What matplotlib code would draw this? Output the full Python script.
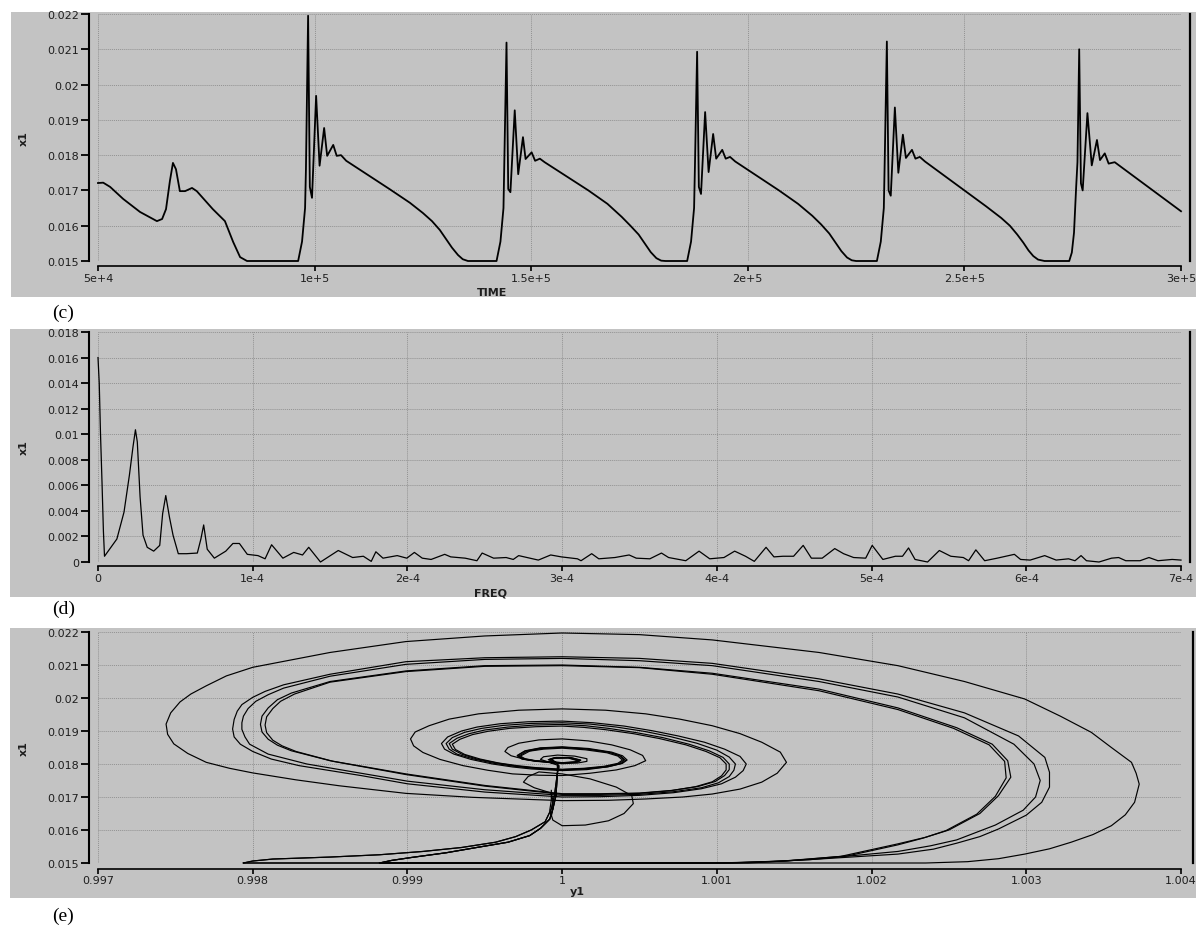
import matplotlib
matplotlib.use("Agg")
import matplotlib.pyplot as plt
from matplotlib.patches import Rectangle

# ---------------- data ----------------

# (c) time series: TIME in thousands, x1
time_k = [50.0, 51.2, 52.8, 55.8, 59.7, 63.6, 64.8, 65.7, 66.6, 67.3, 68.0, 68.9, 70.1, 71.7, 72.8, 76.5, 79.3, 81.2, 82.8, 84.4,
          96.2, 97.1, 97.8, 98.0, 98.5, 98.9, 99.4, 100.35, 101.15, 102.2, 102.9, 104.3, 105.1, 106.1, 107.3,
          117.4, 122.0, 125.0, 127.1, 128.9, 130.3, 131.7, 133.1, 134.2, 135.4,
          142.0, 142.9, 143.6, 143.8, 144.3, 144.7, 145.2, 146.2, 147.0, 148.1, 148.7, 150.1, 150.9, 152.0, 153.1,
          163.2, 167.6, 170.9, 172.9, 174.8, 176.2, 177.6, 178.9, 180.0, 181.0,
          186.0, 186.9, 187.6, 187.8, 188.3, 188.7, 189.2, 190.15, 190.95, 192.0, 192.7, 194.1, 194.9, 195.9, 197.1,
          207.2, 211.6, 214.9, 216.9, 218.8, 220.2, 221.6, 222.9, 224.0, 225.0,
          229.8, 230.7, 231.4, 231.6, 232.1, 232.5, 233.0, 233.95, 234.75, 235.8, 236.5, 237.9, 238.7, 239.7, 240.9,
          250.0, 255.0, 258.5, 260.5, 262.2, 263.6, 264.8, 265.9, 267.0, 268.5,
          274.2, 274.8, 275.3, 275.8, 276.1, 276.5, 276.9, 277.3, 278.4, 279.4, 280.6, 281.3, 282.4, 283.3, 284.7, 300.0]
x1_time = [0.01721, 0.01722, 0.01710, 0.01676, 0.01639, 0.01613, 0.01619, 0.01647, 0.01727, 0.01778, 0.01760, 0.01698, 0.01698, 0.01707, 0.01698, 0.01647, 0.01613, 0.01554, 0.01511, 0.01500,
           0.01500, 0.01555, 0.01650, 0.01760, 0.02195, 0.01710, 0.01679, 0.01968, 0.01770, 0.01877, 0.01798, 0.01829, 0.01798, 0.01800, 0.01784,
           0.01703, 0.01665, 0.01636, 0.01613, 0.01588, 0.01563, 0.01538, 0.01517, 0.01505, 0.01500,
           0.01500, 0.01555, 0.01650, 0.01780, 0.02119, 0.01704, 0.01695, 0.01927, 0.01746, 0.01851, 0.01789, 0.01808, 0.01784, 0.01790, 0.01780,
           0.01700, 0.01662, 0.01625, 0.01600, 0.01575, 0.01550, 0.01525, 0.01508, 0.01501, 0.01500,
           0.01500, 0.01555, 0.01650, 0.01770, 0.02093, 0.01710, 0.01690, 0.01922, 0.01752, 0.01860, 0.01790, 0.01815, 0.01790, 0.01795, 0.01782,
           0.01700, 0.01662, 0.01628, 0.01604, 0.01578, 0.01553, 0.01528, 0.01510, 0.01502, 0.01500,
           0.01500, 0.01555, 0.01650, 0.01780, 0.02122, 0.01700, 0.01685, 0.01935, 0.01750, 0.01858, 0.01792, 0.01815, 0.01790, 0.01795, 0.01782,
           0.01700, 0.01655, 0.01622, 0.01600, 0.01575, 0.01552, 0.01530, 0.01514, 0.01504, 0.01500,
           0.01500, 0.01524, 0.01580, 0.01710, 0.01780, 0.02100, 0.01720, 0.01700, 0.01919, 0.01771, 0.01843, 0.01786, 0.01805, 0.01776, 0.01780, 0.01641]

# (d) spectrum: FREQ in 1e-6, x1 in 1e-3
freq_e6 = [0, 0.8, 1.6, 2.6, 3.5, 4.2, 12.2, 16.8, 20.3, 22.6, 24.2, 25.4, 27.2, 29.1, 31.8, 36.0, 39.9, 41.8, 43.8, 46.2,
           48.5, 51.9, 57.2, 64.2, 66.5, 68.3, 70.6, 75.2, 82.6, 87.2, 91.4, 96.5, 103.4, 108.0, 112.2, 119.5, 126.5, 132.2, 136.2, 143.8,
           155.3, 164.6, 171.5, 176.6, 179.6, 184.2, 193.4, 199.6, 204.5, 209.6, 215.3, 224.1, 228.0, 237.3, 244.9, 248.3, 255.7, 263.8, 268.4, 271.9,
           284.6, 292.6, 299.5, 309.9, 312.2, 319.1, 323.7, 334.1, 343.3, 347.9, 356.7, 364.2, 368.8, 379.9, 388.5, 395.4, 404.6, 411.5, 418.5, 424.2,
           431.8, 436.9, 442.7, 449.6, 455.8, 461.1, 468.1, 476.2, 481.9, 488.4, 496.2, 500.4, 507.3, 515.4, 520.0, 523.9, 528.1, 536.2, 543.8, 551.2,
           559.3, 562.7, 567.4, 573.1, 581.2, 592.3, 596.3, 602.5, 611.9, 619.3, 627.3, 631.5, 635.4, 638.9, 647.0, 655.1, 659.7, 664.3, 673.5, 679.3,
           685.1, 694.3, 700.0]
amp_e3 = [16.0, 14.0, 10.1, 6.2, 2.4, 0.45, 1.8, 3.9, 6.8, 9.0, 10.35, 9.4, 5.1, 2.1, 1.15, 0.85, 1.3, 3.8, 5.2, 3.5,
          2.1, 0.65, 0.65, 0.7, 1.8, 2.9, 1.0, 0.3, 0.85, 1.45, 1.45, 0.6, 0.5, 0.25, 1.35, 0.3, 0.75, 0.55, 1.15, 0.0,
          0.9, 0.35, 0.45, 0.05, 0.8, 0.3, 0.5, 0.3, 0.75, 0.3, 0.2, 0.6, 0.4, 0.3, 0.1, 0.7, 0.3, 0.35, 0.2, 0.5,
          0.15, 0.55, 0.4, 0.25, 0.1, 0.65, 0.25, 0.35, 0.55, 0.3, 0.25, 0.7, 0.35, 0.1, 0.85, 0.25, 0.35, 0.85, 0.45, 0.05,
          1.15, 0.4, 0.45, 0.45, 1.3, 0.3, 0.3, 1.05, 0.65, 0.35, 0.3, 1.3, 0.2, 0.45, 0.45, 1.1, 0.2, 0.0, 0.9, 0.45,
          0.35, 0.1, 0.95, 0.1, 0.3, 0.6, 0.2, 0.15, 0.5, 0.15, 0.25, 0.1, 0.5, 0.1, 0.0, 0.3, 0.35, 0.1, 0.1, 0.35,
          0.1, 0.2, 0.15]

# (e) phase portrait, (y1, x1) pairs per spike cycle
orbit_0 = [(0.99993, 0.01720), (0.99993, 0.01690), (0.99992, 0.01660), (0.99994, 0.01630), (1.00000, 0.01613), (1.00015, 0.01615),
           (1.00030, 0.01628), (1.00040, 0.01650), (1.00046, 0.01680), (1.00045, 0.01704), (1.00035, 0.01730), (1.00018, 0.01755),
           (1.00000, 0.01770), (0.99985, 0.01776), (0.99978, 0.01762), (0.99975, 0.01745), (0.99982, 0.01728), (0.99993, 0.01712),
           (0.99994, 0.01690), (0.99994, 0.01664), (0.99992, 0.01633), (0.99986, 0.01605), (0.99979, 0.01583), (0.99965, 0.01563),
           (0.99946, 0.01548), (0.99925, 0.01531), (0.99903, 0.01517), (0.99890, 0.01508), (0.99882, 0.01500)]

orbit_1 = [(0.99882, 0.01500), (1.00235, 0.01500),
           (1.00262, 0.01504), (1.00282, 0.01513), (1.00299, 0.01527), (1.00315, 0.01543), (1.00329, 0.01563), (1.00343, 0.01586),
           (1.00355, 0.01613), (1.00364, 0.01646), (1.00370, 0.01684), (1.00373, 0.01739), (1.00371, 0.01772), (1.00368, 0.01805),
           (1.00355, 0.01850), (1.00342, 0.01896), (1.00322, 0.01945), (1.00299, 0.01997), (1.00260, 0.02050), (1.00217, 0.02098),
           (1.00166, 0.02138), (1.00097, 0.02176), (1.00050, 0.02192), (1.00000, 0.02197),
           (0.99950, 0.02188), (0.99899, 0.02171), (0.99850, 0.02138), (0.99800, 0.02093), (0.99783, 0.02067), (0.99770, 0.02037),
           (0.99760, 0.02012), (0.99753, 0.01988), (0.99747, 0.01955), (0.99744, 0.01921), (0.99745, 0.01890), (0.99749, 0.01861),
           (0.99758, 0.01832), (0.99770, 0.01805), (0.99785, 0.01787), (0.99800, 0.01773), (0.99828, 0.01752), (0.99856, 0.01734),
           (0.99899, 0.01711), (0.99942, 0.01699), (1.00000, 0.01689),
           (1.00030, 0.01690), (1.00054, 0.01694), (1.00078, 0.01700), (1.00097, 0.01709), (1.00115, 0.01724), (1.00129, 0.01745),
           (1.00139, 0.01772), (1.00145, 0.01805), (1.00141, 0.01836), (1.00129, 0.01866), (1.00115, 0.01892), (1.00097, 0.01916),
           (1.00076, 0.01936), (1.00054, 0.01952), (1.00028, 0.01963), (1.00000, 0.01967), (0.99972, 0.01963), (0.99946, 0.01952),
           (0.99927, 0.01936), (0.99914, 0.01916), (0.99905, 0.01897), (0.99902, 0.01876), (0.99904, 0.01855), (0.99910, 0.01835),
           (0.99921, 0.01814), (0.99936, 0.01795), (0.99952, 0.01781), (0.99968, 0.01770), (0.99985, 0.01766), (1.00000, 0.01765),
           (1.00018, 0.01772), (1.00035, 0.01782), (1.00047, 0.01795), (1.00054, 0.01810), (1.00052, 0.01826), (1.00044, 0.01843),
           (1.00032, 0.01858), (1.00017, 0.01870), (1.00000, 0.01876), (0.99985, 0.01873), (0.99972, 0.01863), (0.99965, 0.01850),
           (0.99963, 0.01838), (0.99967, 0.01825), (0.99976, 0.01814), (0.99988, 0.01806),
           (1.00000, 0.01801), (1.00010, 0.01803), (1.00016, 0.01808), (1.00016, 0.01816), (1.00008, 0.01824), (0.99997, 0.01827),
           (0.99988, 0.01822), (0.99986, 0.01814), (0.99991, 0.01806), (0.99998, 0.01795),
           (0.99997, 0.01775), (0.99996, 0.01740), (0.99995, 0.01704), (0.99993, 0.01664), (0.99989, 0.01625), (0.99980, 0.01600),
           (0.99970, 0.01580), (0.99957, 0.01563), (0.99935, 0.01547), (0.99910, 0.01535), (0.99882, 0.01525), (0.99850, 0.01518),
           (0.99813, 0.01512), (0.99800, 0.01506), (0.99794, 0.01500)]

orbit_2 = [(0.99794, 0.01500), (1.00120, 0.01500),
           (1.00166, 0.01512), (1.00217, 0.01527), (1.00240, 0.01542), (1.00255, 0.01560), (1.00270, 0.01580), (1.00282, 0.01603),
           (1.00300, 0.01645), (1.00310, 0.01684), (1.00315, 0.01730), (1.00315, 0.01775), (1.00312, 0.01820), (1.00295, 0.01885),
           (1.00260, 0.01955), (1.00217, 0.02012), (1.00166, 0.02058), (1.00097, 0.02105), (1.00050, 0.02120), (1.00000, 0.02125),
           (0.99950, 0.02122), (0.99899, 0.02110), (0.99850, 0.02072), (0.99820, 0.02040), (0.99808, 0.02020), (0.99800, 0.02002),
           (0.99793, 0.01980), (0.99790, 0.01960), (0.99788, 0.01935), (0.99787, 0.01906), (0.99788, 0.01882), (0.99792, 0.01860),
           (0.99800, 0.01838), (0.99812, 0.01815), (0.99830, 0.01795), (0.99870, 0.01765), (0.99900, 0.01740), (0.99950, 0.01715),
           (1.00000, 0.01700),
           (1.00025, 0.01701), (1.00050, 0.01705), (1.00072, 0.01713), (1.00090, 0.01725), (1.00103, 0.01740), (1.00112, 0.01760),
           (1.00117, 0.01780), (1.00119, 0.01800), (1.00115, 0.01823), (1.00105, 0.01845), (1.00092, 0.01866), (1.00075, 0.01885),
           (1.00058, 0.01901), (1.00040, 0.01915), (1.00020, 0.01925), (1.00000, 0.01930), (0.99978, 0.01928), (0.99960, 0.01922),
           (0.99945, 0.01912), (0.99935, 0.01900), (0.99926, 0.01882), (0.99922, 0.01862), (0.99924, 0.01845), (0.99930, 0.01830),
           (0.99941, 0.01814), (0.99955, 0.01800), (0.99968, 0.01791), (0.99980, 0.01785), (1.00000, 0.01780),
           (1.00016, 0.01783), (1.00030, 0.01792), (1.00039, 0.01802), (1.00042, 0.01812), (1.00039, 0.01825), (1.00032, 0.01836),
           (1.00017, 0.01847), (1.00000, 0.01852), (0.99986, 0.01849), (0.99976, 0.01840), (0.99971, 0.01826), (0.99974, 0.01815),
           (0.99983, 0.01808), (1.00000, 0.01803), (1.00010, 0.01806), (1.00012, 0.01812), (1.00006, 0.01819), (0.99996, 0.01820),
           (0.99991, 0.01813), (0.99997, 0.01802),
           (0.99997, 0.01775), (0.99996, 0.01704), (0.99994, 0.01664), (0.99992, 0.01633), (0.99986, 0.01605), (0.99979, 0.01583),
           (0.99965, 0.01563), (0.99946, 0.01548), (0.99925, 0.01531), (0.99903, 0.01517), (0.99890, 0.01508), (0.99882, 0.01500)]

orbit_3 = [(0.99882, 0.01500), (1.00100, 0.01500),
           (1.00140, 0.01505), (1.00180, 0.01520), (1.00217, 0.01558), (1.00235, 0.01578), (1.00250, 0.01600), (1.00270, 0.01650),
           (1.00282, 0.01704), (1.00290, 0.01760), (1.00288, 0.01810), (1.00278, 0.01860), (1.00255, 0.01910), (1.00217, 0.01970),
           (1.00166, 0.02027), (1.00097, 0.02075), (1.00050, 0.02093), (1.00000, 0.02100),
           (0.99950, 0.02098), (0.99899, 0.02082), (0.99850, 0.02050), (0.99825, 0.02015), (0.99816, 0.01995), (0.99810, 0.01970),
           (0.99806, 0.01945), (0.99805, 0.01920), (0.99806, 0.01897), (0.99810, 0.01875), (0.99816, 0.01857), (0.99825, 0.01840),
           (0.99850, 0.01810), (0.99899, 0.01770), (0.99950, 0.01735), (1.00000, 0.01710),
           (1.00025, 0.01710), (1.00050, 0.01712), (1.00071, 0.01720), (1.00088, 0.01732), (1.00099, 0.01747), (1.00105, 0.01765),
           (1.00108, 0.01783), (1.00108, 0.01800), (1.00104, 0.01820), (1.00095, 0.01840), (1.00082, 0.01860), (1.00065, 0.01880),
           (1.00048, 0.01895), (1.00030, 0.01908), (1.00015, 0.01916), (1.00000, 0.01920), (0.99982, 0.01918), (0.99965, 0.01912),
           (0.99950, 0.01903), (0.99940, 0.01892), (0.99932, 0.01878), (0.99927, 0.01862), (0.99929, 0.01845), (0.99935, 0.01830),
           (0.99945, 0.01815), (0.99958, 0.01803), (0.99970, 0.01794), (0.99982, 0.01788), (1.00000, 0.01783),
           (1.00015, 0.01786), (1.00028, 0.01792), (1.00037, 0.01801), (1.00040, 0.01812), (1.00037, 0.01825), (1.00030, 0.01836),
           (1.00016, 0.01845), (1.00000, 0.01850), (0.99987, 0.01847), (0.99977, 0.01838), (0.99972, 0.01824), (0.99975, 0.01816),
           (0.99982, 0.01810), (1.00000, 0.01804), (1.00009, 0.01806), (1.00011, 0.01810), (1.00004, 0.01819), (0.99995, 0.01818),
           (0.99993, 0.01814), (0.99997, 0.01802),
           (0.99998, 0.01790), (0.99997, 0.01775), (0.99996, 0.01740), (0.99995, 0.01704), (0.99993, 0.01664), (0.99989, 0.01625),
           (0.99980, 0.01600), (0.99970, 0.01580), (0.99957, 0.01563), (0.99935, 0.01547), (0.99910, 0.01535), (0.99882, 0.01525),
           (0.99850, 0.01518), (0.99813, 0.01512), (0.99800, 0.01506), (0.99794, 0.01500)]

orbit_4 = [(0.99794, 0.01500), (1.00110, 0.01500),
           (1.00160, 0.01510), (1.00217, 0.01535), (1.00238, 0.01552), (1.00255, 0.01570), (1.00280, 0.01615), (1.00298, 0.01660),
           (1.00306, 0.01700), (1.00309, 0.01750), (1.00305, 0.01800), (1.00292, 0.01860), (1.00260, 0.01940), (1.00217, 0.02003),
           (1.00166, 0.02050), (1.00097, 0.02098), (1.00050, 0.02113), (1.00000, 0.02120),
           (0.99950, 0.02117), (0.99899, 0.02102), (0.99850, 0.02066), (0.99820, 0.02030), (0.99810, 0.02010), (0.99802, 0.01990),
           (0.99797, 0.01968), (0.99794, 0.01945), (0.99793, 0.01925), (0.99793, 0.01905), (0.99795, 0.01882), (0.99798, 0.01860),
           (0.99810, 0.01830), (0.99835, 0.01800), (0.99875, 0.01768), (0.99900, 0.01748), (0.99950, 0.01722), (1.00000, 0.01705),
           (1.00025, 0.01705), (1.00050, 0.01708), (1.00072, 0.01716), (1.00090, 0.01728), (1.00101, 0.01743), (1.00108, 0.01762),
           (1.00111, 0.01781), (1.00112, 0.01800), (1.00108, 0.01821), (1.00100, 0.01842), (1.00087, 0.01863), (1.00070, 0.01883),
           (1.00053, 0.01899), (1.00035, 0.01912), (1.00018, 0.01921), (1.00000, 0.01925), (0.99980, 0.01923), (0.99962, 0.01917),
           (0.99948, 0.01908), (0.99937, 0.01896), (0.99929, 0.01880), (0.99925, 0.01862), (0.99927, 0.01845), (0.99932, 0.01830),
           (0.99943, 0.01815), (0.99956, 0.01802), (0.99969, 0.01793), (0.99981, 0.01787), (1.00000, 0.01782),
           (1.00015, 0.01785), (1.00029, 0.01791), (1.00038, 0.01801), (1.00041, 0.01811), (1.00038, 0.01824), (1.00031, 0.01835),
           (1.00016, 0.01846), (1.00000, 0.01851), (0.99986, 0.01848), (0.99976, 0.01839), (0.99971, 0.01825), (0.99974, 0.01816),
           (0.99981, 0.01810), (1.00000, 0.01803), (1.00010, 0.01806), (1.00012, 0.01811), (1.00005, 0.01820), (0.99995, 0.01819),
           (0.99992, 0.01815), (0.99997, 0.01802),
           (0.99997, 0.01775), (0.99996, 0.01704), (0.99994, 0.01664), (0.99992, 0.01633), (0.99986, 0.01605), (0.99979, 0.01583),
           (0.99965, 0.01563), (0.99946, 0.01548), (0.99925, 0.01531), (0.99903, 0.01517), (0.99890, 0.01508), (0.99882, 0.01500)]

orbit_5 = [(0.99882, 0.01500), (1.00105, 0.01500),
           (1.00145, 0.01506), (1.00185, 0.01522), (1.00217, 0.01555), (1.00233, 0.01575), (1.00248, 0.01598), (1.00268, 0.01648),
           (1.00280, 0.01702), (1.00287, 0.01758), (1.00286, 0.01808), (1.00276, 0.01858), (1.00253, 0.01908), (1.00217, 0.01965),
           (1.00166, 0.02022), (1.00097, 0.02072), (1.00050, 0.02092), (1.00000, 0.02098),
           (0.99950, 0.02096), (0.99899, 0.02080), (0.99850, 0.02048), (0.99827, 0.02012), (0.99818, 0.01990), (0.99813, 0.01968),
           (0.99809, 0.01943), (0.99808, 0.01918), (0.99809, 0.01895), (0.99813, 0.01872), (0.99819, 0.01855), (0.99828, 0.01838),
           (0.99852, 0.01808), (0.99899, 0.01768), (0.99950, 0.01733), (1.00000, 0.01708),
           (1.00025, 0.01708), (1.00050, 0.01711), (1.00070, 0.01719), (1.00086, 0.01731), (1.00097, 0.01746), (1.00103, 0.01764),
           (1.00106, 0.01782), (1.00106, 0.01800), (1.00102, 0.01819), (1.00093, 0.01838), (1.00080, 0.01858), (1.00063, 0.01877),
           (1.00046, 0.01892), (1.00028, 0.01904), (1.00014, 0.01911), (1.00000, 0.01915), (0.99983, 0.01913), (0.99966, 0.01908),
           (0.99952, 0.01899), (0.99942, 0.01889), (0.99934, 0.01875), (0.99929, 0.01860), (0.99931, 0.01844), (0.99937, 0.01829),
           (0.99947, 0.01815), (0.99959, 0.01803), (0.99971, 0.01795), (0.99983, 0.01789), (1.00000, 0.01784),
           (1.00014, 0.01787), (1.00027, 0.01793), (1.00036, 0.01802), (1.00039, 0.01812), (1.00036, 0.01824), (1.00029, 0.01834),
           (1.00015, 0.01843), (1.00000, 0.01848), (0.99988, 0.01845), (0.99979, 0.01839), (0.99973, 0.01824), (0.99976, 0.01816),
           (0.99983, 0.01810), (1.00000, 0.01804), (1.00008, 0.01806), (1.00010, 0.01810), (1.00004, 0.01818), (0.99995, 0.01817),
           (0.99993, 0.01813), (0.99997, 0.01802),
           (0.99997, 0.01775), (0.99996, 0.01704), (0.99994, 0.01664), (0.99993, 0.01641)]

orbits = [orbit_0, orbit_1, orbit_2, orbit_3, orbit_4, orbit_5]

# ticks / labels
x1_ticks = [0.015, 0.016, 0.017, 0.018, 0.019, 0.020, 0.021, 0.022]
x1_labels = ["0.015", "0.016", "0.017", "0.018", "0.019", "0.02", "0.021", "0.022"]
time_ticks = [50, 100, 150, 200, 250, 300]
time_labels = ["5e+4", "1e+5", "1.5e+5", "2e+5", "2.5e+5", "3e+5"]
freq_ticks = [0, 100, 200, 300, 400, 500, 600, 700]
freq_labels = ["0", "1e-4", "2e-4", "3e-4", "4e-4", "5e-4", "6e-4", "7e-4"]
amp_ticks = [0, 2, 4, 6, 8, 10, 12, 14, 16, 18]
amp_labels = ["0", "0.002", "0.004", "0.006", "0.008", "0.01", "0.012", "0.014", "0.016", "0.018"]
y1_ticks = [0.997, 0.998, 0.999, 1.000, 1.001, 1.002, 1.003, 1.004]
y1_labels = ["0.997", "0.998", "0.999", "1", "1.001", "1.002", "1.003", "1.004"]

# ---------------- drawing ----------------
W, H = 1201, 928
BG = "#c3c3c3"
TXT = "#1e1e1e"

fig = plt.figure(figsize=(W / 100, H / 100), dpi=100)
fig.patch.set_facecolor("white")


def px_axes(left, top, right, bottom):
    return fig.add_axes([left / W, 1 - bottom / H, (right - left) / W, (bottom - top) / H])


def gray_box(left, top, right, bottom):
    fig.add_artist(Rectangle((left / W, 1 - bottom / H), (right - left) / W, (bottom - top) / H,
                             transform=fig.transFigure, facecolor=BG, edgecolor="none", zorder=0))


def style(ax, xt, xl, yt, yl, xlab, xlab_pos, bottom_off):
    ax.set_facecolor(BG)
    ax.set_xticks(xt)
    ax.set_xticklabels(xl)
    ax.set_yticks(yt)
    ax.set_yticklabels(yl)
    ax.set_xlim(xt[0], xt[-1])
    ax.set_ylim(yt[0], yt[-1])
    ax.grid(True, color="#929292", linestyle=(0, (1, 1)), linewidth=0.7)
    ax.set_axisbelow(True)
    ax.spines["top"].set_visible(False)
    ax.spines["left"].set_position(("outward", 6.5))
    ax.spines["left"].set_linewidth(1.5)
    ax.spines["bottom"].set_position(("outward", bottom_off))
    ax.spines["bottom"].set_linewidth(1.2)
    ax.spines["right"].set_position(("outward", 6.5))
    ax.spines["right"].set_linewidth(1.6)
    ax.tick_params(axis="y", direction="out", length=5.5, width=1.3, pad=1.5, labelsize=8, labelcolor=TXT)
    ax.tick_params(axis="x", direction="out", length=3.5, width=1.2, pad=1.5, labelsize=8, labelcolor=TXT)
    ax.tick_params(right=False)
    ax.set_ylabel("x1", fontsize=8, fontweight="bold", color=TXT)
    ax.yaxis.set_label_coords(-0.064, 0.5)
    ax.set_xlabel(xlab, fontsize=8, fontweight="bold", color=TXT)
    ax.xaxis.set_label_coords(*xlab_pos)


# (c) time series
gray_box(11, 13, 1196, 298)
ax1 = px_axes(98, 15, 1181, 262)
style(ax1, time_ticks, time_labels, x1_ticks, x1_labels, "TIME", (0.364, -0.105), 3.6)
ax1.plot(time_k, x1_time, color="black", linewidth=1.3, clip_on=False)

# (d) spectrum
gray_box(10, 330, 1196, 598)
ax2 = px_axes(98, 333, 1181, 563)
style(ax2, freq_ticks, freq_labels, amp_ticks, amp_labels, "FREQ", (0.362, -0.11), 3.0)
ax2.plot(freq_e6, amp_e3, color="black", linewidth=0.9, clip_on=False)

# (e) phase portrait
gray_box(10, 629, 1196, 899)
ax3 = px_axes(98, 633, 1181, 864)
style(ax3, y1_ticks, y1_labels, x1_ticks, x1_labels, "y1", (0.443, -0.1), 4.0)
ax3.spines["right"].set_position(("outward", 8.5))
for orb in orbits:
    yy, xx = zip(*orb)
    ax3.plot(yy, xx, color="black", linewidth=0.85, clip_on=False)

# panel captions
for label, ypix in [("(c)", 313), ("(d)", 609), ("(e)", 916)]:
    fig.text(52 / W, 1 - ypix / H, label, fontsize=14, fontfamily="Liberation Serif", va="center", ha="left")

fig.savefig("out.png", dpi=100)
